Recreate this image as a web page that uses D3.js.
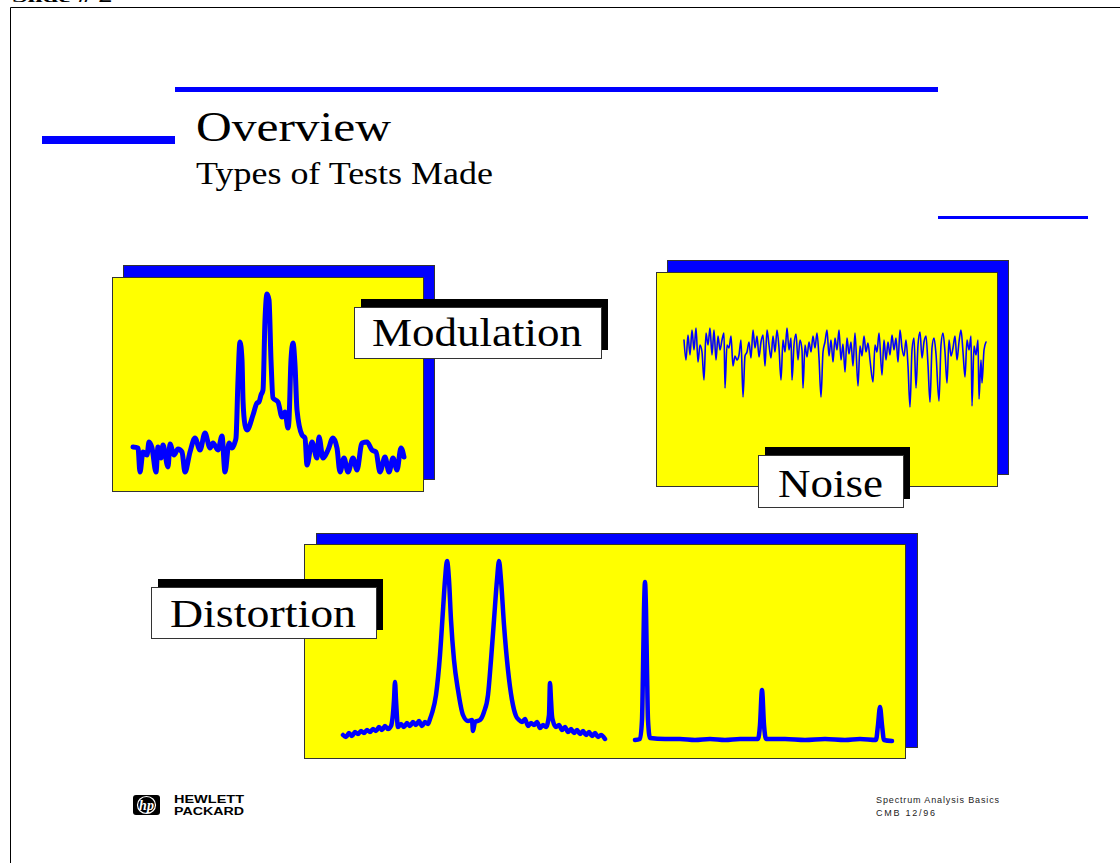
<!DOCTYPE html>
<html>
<head>
<meta charset="utf-8">
<script src="https://cdn.jsdelivr.net/npm/d3@7"></script>
<style>
html,body{margin:0;padding:0;background:#fff;}
svg{display:block;}
</style>
</head>
<body>
<script>
// ---------- DATA ----------
// Modulation trace: frequency offset and level (dB-like units)
const modFreq  = [0,5,7,10,14,16,19,23,25,28,30,35,37,41,45,49,52,57,62,67,72,77,80,85,89,92,96,99,102,103,105,107,109,110,112,114,120,124,126,128,130,132,134,136,138,140,145,149,152,155,156,158,160,162,164,169,172,174,179,184,186,190,195,200,204,207,211,215,220,224,229,234,239,243,247,252,256,260,264,268,271];
const modLevel = [33,32,8,28,25,38,32,8,33,22,35,13,36,25,31,28,8,28,42,30,47,32,37,30,44,8,37,32,38,42,100,138,120,80,55,50,65,77,78,85,90,160,186,180,120,82,78,63,68,52,60,120,137,115,70,45,42,15,38,22,43,22,30,42,32,8,22,8,22,10,37,38,30,28,8,23,8,22,10,32,23];

// Noise trace
const noiseFreq  = [0,2,4,6,8,10,12,14,16,18,20,22,24,26,28,30,32,34,36,38,40,41,43,45,47,49,51,53,55,57,59,61,63,65,67,69,71,73,75,77,79,81,83,85,87,89,91,93,95,97,99,101,103,105,107,108,110,112,114,116,118,119,121,123,125,127,129,131,133,135,137,139,141,143,145,147,149,151,153,155,157,159,161,163,165,167,169,171,174,176,178,180,182,184,186,189,191,193,195,198,200,202,204,206,208,210,212,214,216,218,220,222,224,226,228,230,232,234,236,238,240,242,244,246,248,250,252,255,257,259,261,263,265,267,269,271,273,275,277,279,281,283,285,287,288,290,292,294,295,297,298,300,302];
const noiseLevel = [80,60,85,65,90,70,92,58,75,68,40,87,75,92,65,90,60,84,70,80,87,32,75,72,84,54,64,60,65,80,23,64,68,78,62,90,72,84,63,78,85,54,90,75,62,84,68,90,72,40,80,68,92,70,82,40,75,86,60,80,70,32,75,63,78,68,84,72,87,62,23,68,78,90,64,80,58,82,70,90,60,76,48,82,66,78,54,87,34,74,64,84,68,77,60,38,75,68,87,45,80,60,78,65,85,70,82,58,90,72,64,80,54,13,70,82,32,75,88,62,78,84,55,18,72,82,66,19,75,87,68,37,80,64,72,84,60,78,90,68,43,80,70,84,14,74,65,80,21,60,37,70,78];

// Distortion trace (two sweeps)
const distFreqA  = [3,6,9,12,15,18,21,24,27,30,33,36,39,42,45,48,51,54,55,56,58,61,64,67,70,73,76,79,82,85,88,90,92,96,100,103,105,107,109,111,114,118,123,128,132,133,135,140,144,148,151,154,157,159,161,164,168,172,176,179,182,185,188,191,194,197,200,203,206,209,210,211,212,213,216,219,222,225,228,231,234,237,240,243,246,249,252,255,258,261,265];
const distLevelA = [25,23,27,24,28,26,29,27,30,28,31,29,33,30,34,31,34,60,78,60,33,36,33,37,34,38,35,39,34,38,36,41,47,65,105,150,180,199,180,140,100,70,45,39,40,29,38,40,48,65,100,140,180,199,180,135,90,60,44,40,38,41,34,37,35,38,32,35,33,45,77,60,44,39,33,35,30,33,28,31,27,30,26,29,25,28,24,27,23,25,21];
const distFreqB  = [295,300,302,303,304,305,306,307,308,310,325,340,355,370,385,400,418,420,422,424,426,445,465,485,505,520,536,538,540,542,544,552];
const distLevelB = [20,21,40,90,150,178,150,90,40,22,21,21,20,21,20,21,21,35,70,35,21,21,20,21,20,21,20,35,53,35,20,19];

// Text
const titleText = "Overview";
const subtitleText = "Types of Tests Made";
const labels = ["Modulation", "Noise", "Distortion"];
const footerRight = ["Spectrum Analysis Basics", "CMB  12/96"];

// ---------- DRAW ----------
const W = 1120, H = 863;
const svg = d3.select("body").append("svg").attr("width", W).attr("height", H);
const BLUE = "#0000ff", YEL = "#ffff00", EDGE = "#333";

// slide header text & border
svg.append("text").attr("x", 12).attr("y", 2).attr("font-family", "Liberation Serif")
  .attr("font-weight", "bold").attr("font-size", 15).attr("textLength", 100)
  .attr("lengthAdjust", "spacingAndGlyphs").text("Slide # 2");
svg.append("path").attr("d", "M10.5,870V7.5H1130").attr("fill", "none").attr("stroke", "#000").attr("stroke-width", 1);

// decorative blue rules
svg.append("rect").attr("x", 175).attr("y", 87).attr("width", 763).attr("height", 5).attr("fill", BLUE);
svg.append("rect").attr("x", 42).attr("y", 136).attr("width", 133).attr("height", 8).attr("fill", BLUE);
svg.append("rect").attr("x", 938).attr("y", 216).attr("width", 150).attr("height", 3).attr("fill", BLUE);

// titles
svg.append("text").attr("x", 196).attr("y", 141).attr("font-family", "Liberation Serif")
  .attr("font-size", 43).attr("textLength", 195).attr("lengthAdjust", "spacingAndGlyphs").text(titleText);
svg.append("text").attr("x", 196).attr("y", 184).attr("font-family", "Liberation Serif")
  .attr("font-size", 31).attr("textLength", 297).attr("lengthAdjust", "spacingAndGlyphs").text(subtitleText);

function panel(x, y, w, h, dx, dy) {
  svg.append("rect").attr("x", x + dx + 0.5).attr("y", y + dy + 0.5).attr("width", w).attr("height", h)
    .attr("fill", BLUE).attr("stroke", EDGE).attr("stroke-width", 1);
  svg.append("rect").attr("x", x + 0.5).attr("y", y + 0.5).attr("width", w).attr("height", h)
    .attr("fill", YEL).attr("stroke", EDGE).attr("stroke-width", 1);
}
function label(x, y, w, h, txt, tx, ty, tl) {
  svg.append("rect").attr("x", x + 7).attr("y", y - 8).attr("width", w).attr("height", h).attr("fill", "#000");
  svg.append("rect").attr("x", x + 0.5).attr("y", y + 0.5).attr("width", w).attr("height", h)
    .attr("fill", "#fff").attr("stroke", EDGE).attr("stroke-width", 1);
  svg.append("text").attr("x", tx).attr("y", ty).attr("font-family", "Liberation Serif")
    .attr("font-size", 40).attr("textLength", tl).attr("lengthAdjust", "spacingAndGlyphs").text(txt);
}
function trace(freq, level, x0, y0, w, hmax, sw) {
  const xs = d3.scaleLinear().domain([0, w]).range([x0, x0 + w]);
  const ys = d3.scaleLinear().domain([0, hmax]).range([y0, y0 - hmax]);
  const line = d3.line().x(d => xs(d[0])).y(d => ys(d[1])).curve(d3.curveMonotoneX);
  svg.append("path").attr("d", line(d3.zip(freq, level))).attr("fill", "none")
    .attr("stroke", BLUE).attr("stroke-width", sw).attr("stroke-linejoin", "round").attr("stroke-linecap", "round");
}

// Modulation panel
panel(112, 277, 311, 214, 11, -12);
trace(modFreq, modLevel, 133, 480, 271, 200, 5);
label(354, 307, 247, 51, labels[0], 372, 346, 210);

// Noise panel
panel(656, 272, 341, 214, 11, -12);
trace(noiseFreq, noiseLevel, 684, 420, 302, 100, 1.6);
label(758, 455, 145, 52, labels[1], 778, 497, 105);

// Distortion panel
panel(304, 544, 601, 214, 12, -11);
trace(distFreqA, distLevelA, 340, 760, 560, 210, 4.5);
trace(distFreqB, distLevelB, 340, 760, 560, 210, 4.5);
label(151, 587, 225, 51, labels[2], 170, 627, 186);

// Footer: HP logo
const logo = svg.append("g");
logo.append("rect").attr("x", 133).attr("y", 795).attr("width", 27).attr("height", 20).attr("rx", 3).attr("fill", "#000");
logo.append("ellipse").attr("cx", 146.5).attr("cy", 805).attr("rx", 9).attr("ry", 8.5).attr("fill", "none").attr("stroke", "#fff").attr("stroke-width", 1.2);
logo.append("text").attr("x", 146.5).attr("y", 810).attr("text-anchor", "middle").attr("font-family", "Liberation Serif")
  .attr("font-style", "italic").attr("font-weight", "bold").attr("font-size", 14).attr("fill", "#fff").text("hp");
svg.append("text").attr("x", 174).attr("y", 803).attr("font-family", "Liberation Sans").attr("font-weight", "bold")
  .attr("font-size", 11).attr("textLength", 70).attr("lengthAdjust", "spacingAndGlyphs").text("HEWLETT");
svg.append("text").attr("x", 174).attr("y", 815).attr("font-family", "Liberation Sans").attr("font-weight", "bold")
  .attr("font-size", 11).attr("textLength", 70).attr("lengthAdjust", "spacingAndGlyphs").text("PACKARD");

// Footer right text
svg.append("text").attr("x", 876).attr("y", 803).attr("font-family", "Liberation Sans").attr("font-size", 9)
  .attr("textLength", 123).attr("lengthAdjust", "spacing").attr("fill", "#222").text(footerRight[0]);
svg.append("text").attr("x", 876).attr("y", 816).attr("font-family", "Liberation Sans").attr("font-size", 9)
  .attr("textLength", 59).attr("lengthAdjust", "spacing").attr("fill", "#222").text(footerRight[1]);
</script>
</body>
</html>
